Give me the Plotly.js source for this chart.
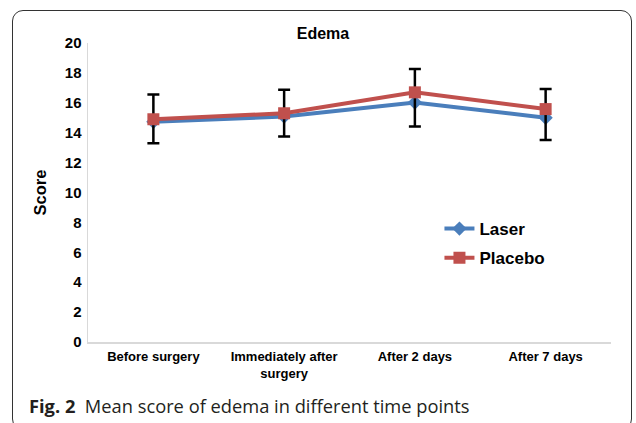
<!DOCTYPE html>
<html>
<head>
<meta charset="utf-8">
<script src="https://cdn.plot.ly/plotly-3.0.1.min.js"></script>
<style>
  html, body { margin: 0; padding: 0; background: #fff; }
  #wrap { position: relative; width: 636px; height: 423px; }
  #chart { position: absolute; left: 0; top: 0; width: 636px; height: 423px; }
  #frame { position: absolute; left: 12px; top: 10px; width: 620px; height: 420px;
           border: 1px solid #333; border-radius: 11px; pointer-events: none; box-sizing: border-box; }
</style>
</head>
<body>
<div id="wrap">
  <div id="chart"></div>
  <div id="frame"></div>
</div>
<script>
const categories = ["Before surgery", "Immediately after<br>surgery", "After 2 days", "After 7 days"];
const laserMean = [14.73, 15.08, 16.02, 15.0];
const placeboMean = [14.9, 15.3, 16.7, 15.58];
const errUpper = [1.65, 1.57, 1.56, 1.34];
const errLower = [1.6, 1.56, 2.29, 2.06];
const yTicks = [0, 2, 4, 6, 8, 10, 12, 14, 16, 18, 20];

const labelFont = "'Liberation Sans', Arial, sans-serif";

const traces = [
  {
    name: "Laser", x: categories, y: laserMean, type: "scatter", mode: "lines+markers",
    legendgroup: "a",
    line: { color: "#4a7ebb", width: 4 },
    marker: { symbol: "diamond", size: 11, color: "#4a7ebb" }
  },
  {
    name: "Placebo", x: categories, y: placeboMean, type: "scatter", mode: "lines+markers",
    legendgroup: "b",
    line: { color: "#c0504d", width: 4 },
    marker: { symbol: "square", size: 12, color: "#c0504d" },
    error_y: { type: "data", symmetric: false, array: errUpper, arrayminus: errLower,
               visible: true, color: "#000", thickness: 2.5, width: 6 }
  }
];

const layout = {
  width: 636, height: 423,
  margin: { l: 88, r: 25, t: 43, b: 81 },
  paper_bgcolor: "#fff", plot_bgcolor: "#fff",
  font: { family: labelFont, color: "#000" },
  title: { text: "<b>Edema</b>", font: { size: 16, family: labelFont, color: "#000" },
           x: 323 / 636, xanchor: "center", xref: "container", y: 1 - 33 / 423, yanchor: "middle", yref: "container" },
  xaxis: {
    type: "category", showgrid: false, zeroline: false,
    showline: true, linecolor: "#d9d9d9", linewidth: 1.5, ticks: "",
    tickfont: { size: 13, family: labelFont, color: "#000", weight: "bold" },
    ticklabelstandoff: 2,
    range: [-0.5, 3.5], fixedrange: true
  },
  yaxis: {
    range: [0, 20], tickvals: yTicks, ticktext: yTicks.map(String),
    showgrid: false, zeroline: false,
    showline: true, linecolor: "#d9d9d9", linewidth: 1.5, ticks: "",
    tickfont: { size: 15, family: labelFont, color: "#000", weight: "bold" },
    ticklabelstandoff: 2,
    title: { text: "<b>Score</b>", font: { size: 16.5, family: labelFont, color: "#000" }, standoff: 14 }
  },
  showlegend: true,
  legend: {
    x: 0.672, y: 0.438, xanchor: "left", yanchor: "top",
    font: { size: 17, family: labelFont, color: "#000", weight: "bold" },
    bgcolor: "rgba(0,0,0,0)", tracegroupgap: 4, traceorder: "grouped", itemwidth: 30
  },
  annotations: [{
    xref: "paper", yref: "paper", x: (27 - 88) / 523, y: -(405 - 342) / 299,
    xanchor: "left", yanchor: "middle", showarrow: false,
    text: "<b>Fig. 2</b>  Mean score of edema in different time points",
    font: { size: 18.3, family: "'Open Sans', sans-serif", color: "#231f20" }
  }]
};

Plotly.newPlot("chart", traces, layout, { displayModeBar: false, staticPlot: true });
</script>
</body>
</html>
